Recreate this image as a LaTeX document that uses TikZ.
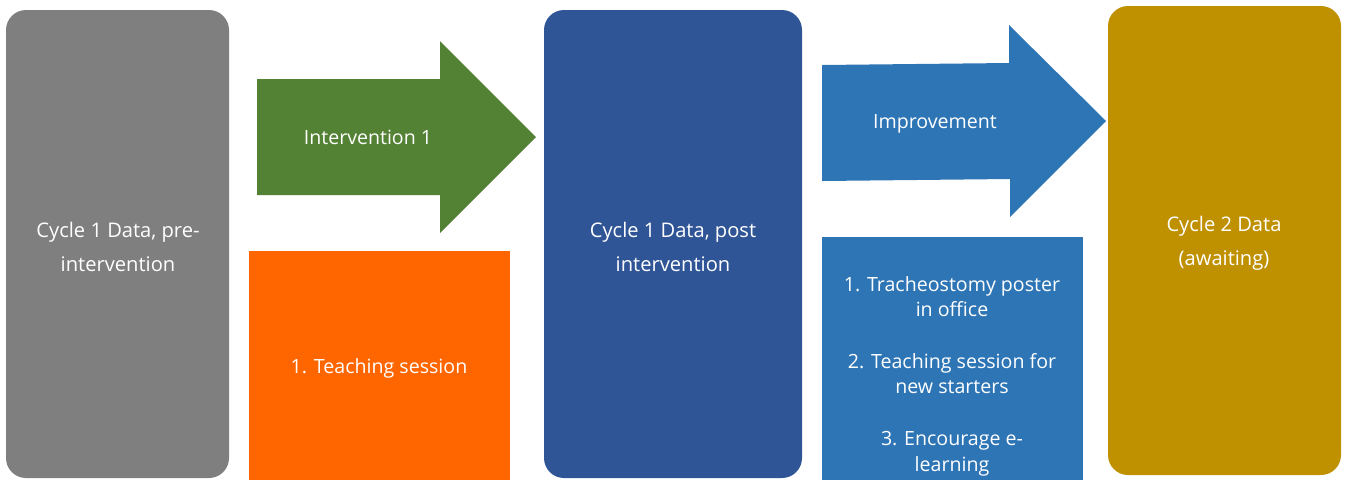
\documentclass[tikz,border=0pt]{standalone}
\usepackage{fontspec}
\setmainfont{Open Sans}
\definecolor{cgray}{HTML}{7F7F7F}
\definecolor{cgreen}{HTML}{548235}
\definecolor{corange}{HTML}{FF6600}
\definecolor{cdblue}{HTML}{2F5597}
\definecolor{cblue}{HTML}{2E75B6}
\definecolor{cgold}{HTML}{BF9000}
\tikzset{
  card/.style={draw=none, rounded corners=15pt, inner sep=0pt, text=white, align=center,
    font=\fontsize{15.1pt}{25.5pt}\selectfont},
  plainbox/.style={draw=none, inner sep=0pt, text=white, align=center},
  lbl/.style={text=white, align=center, inner sep=0pt, font=\fontsize{14.7pt}{19.3pt}\selectfont},
}
\begin{document}
\begin{tikzpicture}[x=0.75pt, y=-0.75pt]
\useasboundingbox (0,0) rectangle (1349,480);
% cards
\node[card, fill=cgray, minimum width=223*0.75pt, minimum height=468*0.75pt] (pre) at (117.5,244) {};
\node[card, text=white] (pretxt) at (118,247) {Cycle 1 Data, pre-\\intervention};
\node[card, fill=cdblue, minimum width=258*0.75pt, minimum height=468*0.75pt] (post) at (673,244) {};
\node[card] (posttxt) at (673,247) {Cycle 1 Data, post\\intervention};
\node[card, fill=cgold, minimum width=233*0.75pt, minimum height=469*0.75pt] (c2) at (1224.5,240.5) {};
\node[card] (c2txt) at (1224,243) {Cycle 2 Data\\(awaiting)};
% arrows
\fill[cgreen] (257,79) -- (440,79) -- (440,41) -- (536,137) -- (440,233) -- (440,195) -- (257,195) -- cycle;
\node[lbl] (int1) at (368,137) {Intervention 1};
\fill[cblue] (822,65) -- (1009,63) -- (1009,25) -- (1106,121) -- (1010,217) -- (1010,179) -- (822,181) -- cycle;
\node[lbl] (impr) at (935,124) {Improvement};
% boxes
\node[plainbox, fill=corange, minimum width=261*0.75pt, minimum height=229*0.75pt] (teach) at (379.5,365.5) {};
\node[lbl] (teachtxt) at (379,368) {1. Teaching session};
\node[plainbox, fill=cblue, minimum width=261*0.75pt, minimum height=243*0.75pt] (acts) at (952.5,358.5) {};
\node[lbl] (actstxt) at (952,376) {1. Tracheostomy poster\\in office\\[19.3pt]2. Teaching session for\\new starters\\[19.3pt]3. Encourage e-\\learning};
\end{tikzpicture}
\end{document}
